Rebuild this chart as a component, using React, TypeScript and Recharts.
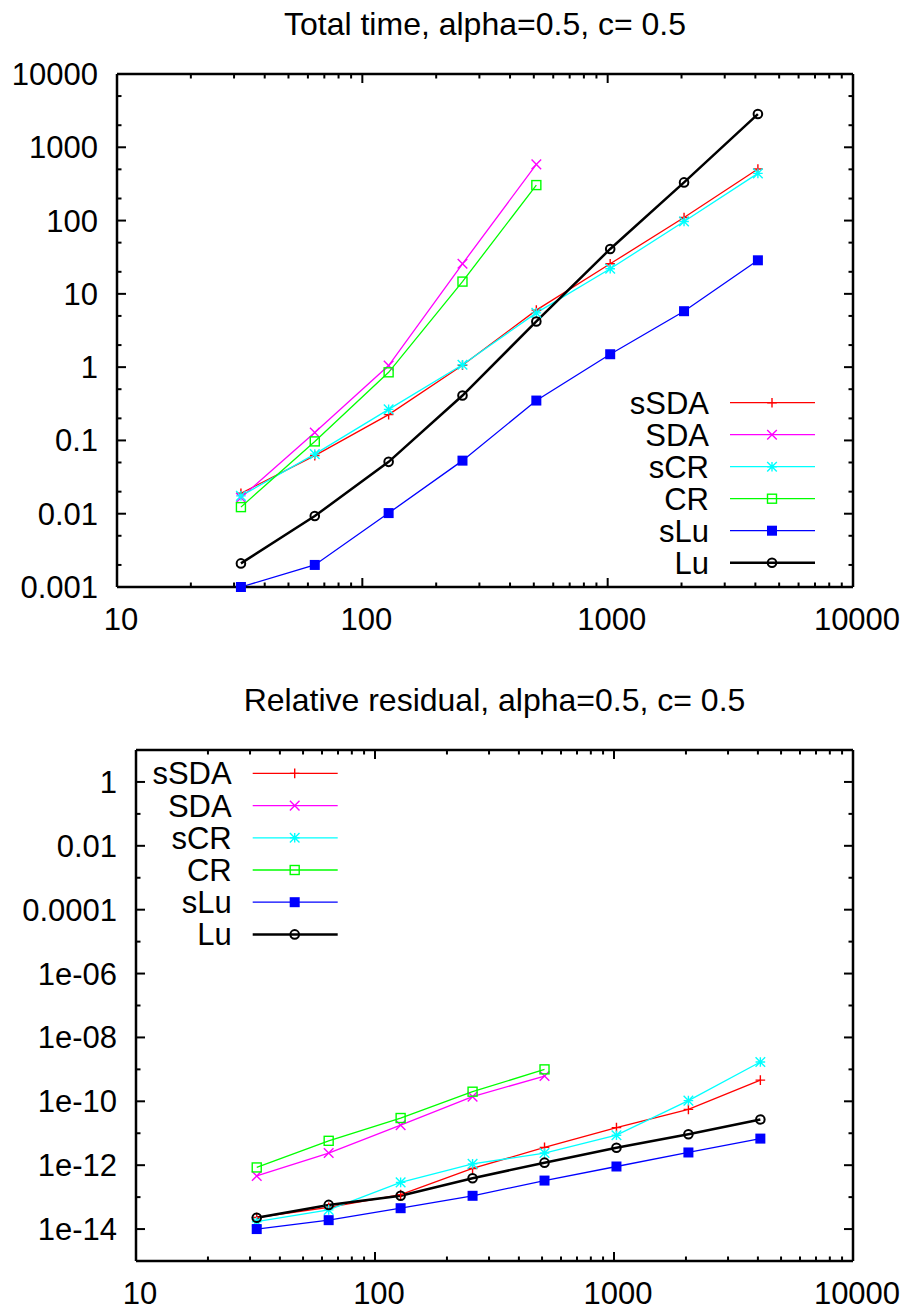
import { LineChart, Line, XAxis, YAxis, Legend } from "recharts";

// matrix sizes on the x axis
const sizes = [32, 64, 128, 256, 512, 1024, 2048, 4096];

// Total time (top panel)
const timeSSDA = [0.019, 0.062, 0.225, 1.06, 6.0, 25.7, 110, 505];
const timeSDA = [0.0165, 0.128, 1.05, 25.7, 585];
const timeSCR = [0.0175, 0.065, 0.265, 1.08, 5.5, 22, 97, 440];
const timeCR = [0.0123, 0.097, 0.85, 14.7, 305];
const timeSLu = [0.001, 0.002, 0.0102, 0.053, 0.35, 1.5, 5.8, 28.7];
const timeLu = [0.0021, 0.0093, 0.051, 0.41, 4.2, 41, 332, 2840];

// Relative residual (bottom panel)
const resSSDA = [2.3e-14, 4.8e-14, 1.2e-13, 7.9e-13, 3.6e-12, 1.5e-11, 5.6e-11, 4.6e-10];
const resSDA = [4.6e-13, 2.4e-12, 1.8e-11, 1.4e-10, 6.2e-10];
const resSCR = [1.7e-14, 4e-14, 2.9e-13, 1.1e-12, 2.4e-12, 8.7e-12, 1.05e-10, 1.7e-9];
const resCR = [8.5e-13, 5.8e-12, 3.0e-11, 2.0e-10, 1.0e-9];
const resSLu = [1e-14, 1.9e-14, 4.5e-14, 1.1e-13, 3.3e-13, 9.1e-13, 2.5e-12, 6.8e-12];
const resLu = [2.25e-14, 5.7e-14, 1.1e-13, 3.9e-13, 1.2e-12, 3.5e-12, 9.3e-12, 2.7e-11];

const seriesNames = ["sSDA", "SDA", "sCR", "CR", "sLu", "Lu"];
const seriesColors = ["#ff0000", "#ff00ff", "#00ffff", "#00ff00", "#0000ff", "#000000"];
const seriesShapes = ["plus", "cross", "star", "box", "fbox", "circle"];
const seriesWidths = [1.3, 1.3, 1.3, 1.3, 1.3, 2.5];

const xMajorTicks = [10, 100, 1000, 10000];
const xTickLabels = ["10", "100", "1000", "10000"];
const xMinorTicks = [10, 100, 1000].flatMap((d) => [2, 3, 4, 5, 6, 7, 8, 9].map((m) => m * d));

const timeMajorTicks = [0.001, 0.01, 0.1, 1, 10, 100, 1000, 10000];
const timeTickLabels = ["0.001", "0.01", "0.1", "1", "10", "100", "1000", "10000"];
const timeMinorTicks = timeMajorTicks.slice(0, -1).flatMap((d) => [2 * d, 5 * d]);

const resMajorTicks = [1e-14, 1e-12, 1e-10, 1e-8, 1e-6, 1e-4, 0.01, 1];
const resTickLabels = ["1e-14", "1e-12", "1e-10", "1e-08", "1e-06", "0.0001", "0.01", "1"];
const resMinorTicks = [1e-13, 1e-11, 1e-9, 1e-7, 1e-5, 1e-3, 0.1];

const W = 907;
const FONT = "'Liberation Sans', Arial, Helvetica, sans-serif";

function buildRows(cols: number[][]) {
  return sizes.map((n, i) => {
    const row: Record<string, number | undefined> = { n };
    seriesNames.forEach((s, k) => {
      row[s] = cols[k][i];
    });
    return row;
  });
}

const timeRows = buildRows([timeSSDA, timeSDA, timeSCR, timeCR, timeSLu, timeLu]);
const resRows = buildRows([resSSDA, resSDA, resSCR, resCR, resSLu, resLu]);

function Marker({ shape, cx, cy, color }: { shape: string; cx: number; cy: number; color: string }) {
  const s = 4.8;
  switch (shape) {
    case "plus":
      return <path d={`M${cx - s},${cy}H${cx + s}M${cx},${cy - s}V${cy + s}`} stroke={color} strokeWidth={1.4} fill="none" />;
    case "cross":
      return (
        <path
          d={`M${cx - s},${cy - s}L${cx + s},${cy + s}M${cx - s},${cy + s}L${cx + s},${cy - s}`}
          stroke={color}
          strokeWidth={1.4}
          fill="none"
        />
      );
    case "star":
      return (
        <path
          d={`M${cx - s},${cy}H${cx + s}M${cx},${cy - s}V${cy + s}M${cx - s},${cy - s}L${cx + s},${cy + s}M${cx - s},${cy + s}L${cx + s},${cy - s}`}
          stroke={color}
          strokeWidth={1.4}
          fill="none"
        />
      );
    case "box":
      return <rect x={cx - 4.5} y={cy - 4.5} width={9} height={9} stroke={color} strokeWidth={1.4} fill="none" />;
    case "fbox":
      return <rect x={cx - 5} y={cy - 5} width={10} height={10} fill={color} />;
    default:
      return <circle cx={cx} cy={cy} r={4.3} stroke={color} strokeWidth={2} fill="none" />;
  }
}

function dotRenderer(shape: string, color: string) {
  return (props: any) => {
    const { cx, cy, index } = props;
    if (cx == null || cy == null || props.value == null) return <g key={`d${index}`} />;
    return (
      <g key={`d${index}`}>
        <Marker shape={shape} cx={cx} cy={cy} color={color} />
      </g>
    );
  };
}

type Box = { left: number; right: number; top: number; bottom: number };

function makeXTick(box: Box) {
  return (props: any) => {
    const { x, payload } = props;
    const i = xMajorTicks.indexOf(payload.value);
    const len = i >= 0 ? 9 : 4.5;
    return (
      <g>
        <line x1={x} x2={x} y1={box.bottom} y2={box.bottom - len} stroke="#000" strokeWidth={2} />
        <line x1={x} x2={x} y1={box.top} y2={box.top + len} stroke="#000" strokeWidth={2} />
        {i >= 0 && (
          <text x={x + 4} y={box.bottom + 43} textAnchor="middle" fontSize={31} fill="#000">
            {xTickLabels[i]}
          </text>
        )}
      </g>
    );
  };
}

function makeYTick(box: Box, majors: number[], labels: string[]) {
  return (props: any) => {
    const { y, payload } = props;
    const i = majors.indexOf(payload.value);
    const len = i >= 0 ? 9 : 4.5;
    return (
      <g>
        <line x1={box.left} x2={box.left + len} y1={y} y2={y} stroke="#000" strokeWidth={2} />
        <line x1={box.right} x2={box.right - len} y1={y} y2={y} stroke="#000" strokeWidth={2} />
        {i >= 0 && (
          <text x={box.left - 19} y={y + 11} textAnchor="end" fontSize={31} fill="#000">
            {labels[i]}
          </text>
        )}
      </g>
    );
  };
}

function LegendBox({ textX, rowY, step }: { textX: number; rowY: number; step: number }) {
  return (
    <svg width={260} height={210} style={{ fontFamily: FONT, overflow: "visible" }}>
      {seriesNames.map((name, k) => {
        const y = rowY + k * step;
        return (
          <g key={name}>
            <text x={textX} y={y + 11} textAnchor="end" fontSize={31} fill="#000">
              {name}
            </text>
            <line x1={textX + 21} x2={textX + 106} y1={y} y2={y} stroke={seriesColors[k]} strokeWidth={seriesWidths[k]} />
            <Marker shape={seriesShapes[k]} cx={textX + 63} cy={y} color={seriesColors[k]} />
          </g>
        );
      })}
    </svg>
  );
}

type PanelProps = {
  title: string;
  rows: Record<string, number | undefined>[];
  height: number;
  box: Box;
  yDomain: [number, number];
  yMajor: number[];
  yLabels: string[];
  yMinor: number[];
  legend: { left: number; top: number; textX: number; rowY: number; step: number };
};

function Panel({ title, rows, height, box, yDomain, yMajor, yLabels, yMinor, legend }: PanelProps) {
  const frame = { stroke: "#000", strokeWidth: 2.5 };
  // every axis is 1px thick (0 would hide it), so margins leave room for that pixel
  return (
    <LineChart
      width={W}
      height={height}
      data={rows}
      margin={{ top: box.top - 1, left: box.left - 1, right: W - box.right - 1, bottom: height - box.bottom - 1 }}
      style={{ fontFamily: FONT }}
    >
      <XAxis
        dataKey="n"
        type="number"
        scale="log"
        domain={[10, 10000]}
        ticks={[...xMajorTicks, ...xMinorTicks]}
        interval={0}
        height={1}
        tickSize={0}
        tickMargin={0}
        tickLine={false}
        axisLine={frame}
        tick={makeXTick(box)}
      />
      <XAxis
        xAxisId="top"
        orientation="top"
        type="number"
        scale="log"
        domain={[10, 10000]}
        height={1}
        tick={false}
        tickLine={false}
        axisLine={frame}
        label={{ value: title, position: "top", offset: 38, fontSize: 32, fill: "#000" }}
      />
      <YAxis
        type="number"
        scale="log"
        domain={yDomain}
        ticks={[...yMajor, ...yMinor]}
        interval={0}
        width={1}
        tickSize={0}
        tickMargin={0}
        tickLine={false}
        axisLine={frame}
        tick={makeYTick(box, yMajor, yLabels)}
      />
      <YAxis
        yAxisId="right"
        orientation="right"
        type="number"
        scale="log"
        domain={yDomain}
        width={1}
        tick={false}
        tickLine={false}
        axisLine={frame}
      />
      <Legend
        layout="vertical"
        align="center"
        verticalAlign="middle"
        wrapperStyle={{ left: legend.left, top: legend.top, width: 260, height: 210 }}
        content={() => <LegendBox textX={legend.textX} rowY={legend.rowY} step={legend.step} />}
      />
      {seriesNames.map((name, k) => (
        <Line
          key={name}
          dataKey={name}
          name={name}
          type="linear"
          stroke={seriesColors[k]}
          strokeWidth={seriesWidths[k]}
          dot={dotRenderer(seriesShapes[k], seriesColors[k])}
          activeDot={false}
          isAnimationActive={false}
        />
      ))}
    </LineChart>
  );
}

export default function App() {
  return (
    <div style={{ position: "relative", width: W, height: 1310, background: "#fff" }}>
      <style>{"body{margin:0}"}</style>
      <div style={{ position: "absolute", left: 0, top: 0 }}>
        <Panel
          title="Total time, alpha=0.5, c= 0.5"
          rows={timeRows}
          height={650}
          box={{ left: 117, right: 853, top: 74, bottom: 587 }}
          yDomain={[0.001, 10000]}
          yMajor={timeMajorTicks}
          yLabels={timeTickLabels}
          yMinor={timeMinorTicks}
          legend={{ left: 580, top: 380, textX: 129, rowY: 22.7, step: 32 }}
        />
      </div>
      <div style={{ position: "absolute", left: 0, top: 650 }}>
        <Panel
          title="Relative residual, alpha=0.5, c= 0.5"
          rows={resRows}
          height={660}
          box={{ left: 136, right: 853, top: 100, bottom: 611 }}
          yDomain={[1e-15, 10]}
          yMajor={resMajorTicks}
          yLabels={resTickLabels}
          yMinor={resMinorTicks}
          legend={{ left: 100, top: 100, textX: 131.7, rowY: 23.4, step: 32.2 }}
        />
      </div>
    </div>
  );
}
